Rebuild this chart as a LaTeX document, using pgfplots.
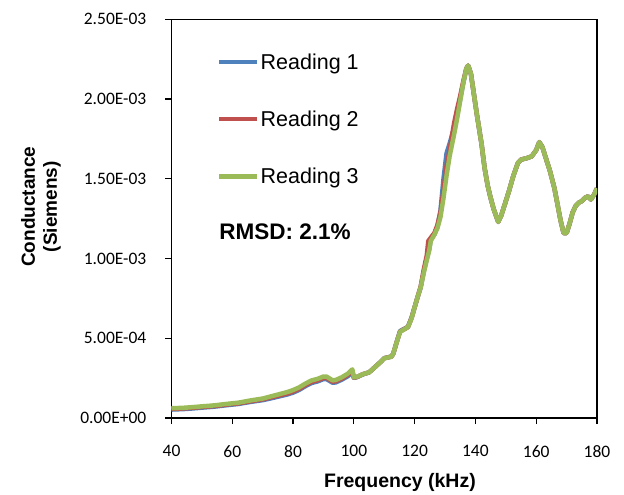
\documentclass[border=0pt]{standalone}
\usepackage{fontspec}
\setmainfont{Liberation Sans}
\newfontfamily\calibri{Carlito}
\usepackage{pgfplots}
\pgfplotsset{compat=1.18}
\usetikzlibrary{calc}
\definecolor{rblue}{HTML}{4F81BD}
\definecolor{rred}{HTML}{C0504D}
\definecolor{rgreen}{HTML}{9BBB59}

% conductance readings (S) vs frequency (kHz)
\pgfplotstableread{
x y
40 5.3e-5
44 5.6e-5
47 6.0e-5
50 6.5e-5
54 7.1e-5
58 8.0e-5
62 8.8e-5
66 1.01e-4
70 1.12e-4
72 1.20e-4
74 1.29e-4
76 1.38e-4
78 1.47e-4
80 1.59e-4
82 1.76e-4
84 1.99e-4
86 2.19e-4
88 2.29e-4
90 2.44e-4
91 2.44e-4
92 2.33e-4
93 2.21e-4
94 2.23e-4
96 2.40e-4
98 2.62e-4
99.5 2.85e-4
100 2.52e-4
101 2.56e-4
103 2.74e-4
105 2.86e-4
107 3.20e-4
109 3.55e-4
110 3.75e-4
112.4 3.86e-4
113 4.05e-4
114 4.70e-4
115.2 5.45e-4
117.8 5.72e-4
119 6.30e-4
120 6.95e-4
121 7.60e-4
122 8.20e-4
123 9.20e-4
124 1.00e-3
124.8 1.06e-3
125.3 1.12e-3
126.5 1.15e-3
127.5 1.20e-3
128.5 1.30e-3
129.5 1.50e-3
130.5 1.66e-3
131.5 1.72e-3
133 1.82e-3
134 1.90e-3
135 2.00e-3
136 2.10e-3
137 2.19e-3
137.6 2.21e-3
138.5 2.16e-3
139.5 2.03e-3
140.5 1.90e-3
142 1.72e-3
143 1.57e-3
144 1.46e-3
145 1.38e-3
146 1.31e-3
147.5 1.23e-3
148.5 1.27e-3
150 1.36e-3
151 1.42e-3
152.5 1.52e-3
154 1.60e-3
155 1.62e-3
157 1.63e-3
158.5 1.64e-3
160 1.68e-3
161 1.73e-3
162 1.70e-3
163 1.64e-3
164.5 1.55e-3
166 1.44e-3
167 1.34e-3
168 1.24e-3
169 1.16e-3
170 1.16e-3
171 1.22e-3
172 1.29e-3
173 1.33e-3
174 1.35e-3
175 1.36e-3
176 1.38e-3
177 1.39e-3
178 1.37e-3
179 1.40e-3
180 1.44e-3
}\readone

\pgfplotstableread{
x y
40 5.7e-5
44 6.0e-5
47 6.4e-5
50 6.9e-5
54 7.5e-5
58 8.4e-5
62 9.2e-5
66 1.05e-4
70 1.17e-4
72 1.26e-4
74 1.35e-4
76 1.44e-4
78 1.53e-4
80 1.66e-4
82 1.83e-4
84 2.06e-4
86 2.26e-4
88 2.36e-4
90 2.51e-4
91 2.51e-4
92 2.40e-4
93 2.28e-4
94 2.30e-4
96 2.47e-4
98 2.70e-4
99.5 2.95e-4
100 2.53e-4
101 2.57e-4
103 2.75e-4
105 2.86e-4
107 3.20e-4
109 3.55e-4
110 3.75e-4
112.4 3.85e-4
113 4.05e-4
114 4.70e-4
115.2 5.42e-4
117.8 5.70e-4
119 6.28e-4
120 6.95e-4
121 7.60e-4
122 8.25e-4
123 9.30e-4
124 1.02e-3
124.5 1.11e-3
125.3 1.13e-3
126.5 1.16e-3
127.5 1.21e-3
128.5 1.29e-3
129.5 1.43e-3
130.5 1.58e-3
131.5 1.68e-3
133 1.85e-3
134 1.94e-3
135 2.02e-3
136 2.11e-3
137 2.19e-3
137.6 2.21e-3
138.5 2.16e-3
139.5 2.03e-3
140.5 1.90e-3
142 1.72e-3
143 1.57e-3
144 1.46e-3
145 1.38e-3
146 1.31e-3
147.5 1.23e-3
148.5 1.27e-3
150 1.36e-3
151 1.42e-3
152.5 1.52e-3
154 1.60e-3
155 1.62e-3
157 1.63e-3
158.5 1.64e-3
160 1.68e-3
161 1.73e-3
162 1.70e-3
163 1.64e-3
164.5 1.55e-3
166 1.44e-3
167 1.34e-3
168 1.24e-3
169 1.16e-3
170 1.16e-3
171 1.22e-3
172 1.29e-3
173 1.33e-3
174 1.35e-3
175 1.36e-3
176 1.38e-3
177 1.39e-3
178 1.37e-3
179 1.40e-3
180 1.44e-3
}\readtwo

\pgfplotstableread{
x y
40 6.1e-5
44 6.4e-5
47 6.8e-5
50 7.3e-5
54 7.9e-5
58 8.8e-5
62 9.6e-5
66 1.10e-4
70 1.22e-4
72 1.32e-4
74 1.42e-4
76 1.52e-4
78 1.62e-4
80 1.75e-4
82 1.92e-4
84 2.15e-4
86 2.35e-4
88 2.45e-4
90 2.60e-4
91 2.60e-4
92 2.48e-4
93 2.36e-4
94 2.38e-4
96 2.55e-4
98 2.78e-4
99.5 3.05e-4
100 2.55e-4
101 2.58e-4
103 2.75e-4
105 2.86e-4
107 3.20e-4
109 3.55e-4
110 3.75e-4
112.4 3.84e-4
113 4.05e-4
114 4.70e-4
115.2 5.40e-4
117.8 5.70e-4
119 6.25e-4
120 6.95e-4
121 7.60e-4
122 8.20e-4
123 9.10e-4
124 9.90e-4
124.8 1.05e-3
125.3 1.11e-3
126.5 1.15e-3
127.5 1.19e-3
128.5 1.26e-3
129.5 1.38e-3
130.5 1.52e-3
131.5 1.64e-3
133 1.78e-3
134 1.88e-3
135 1.99e-3
136 2.10e-3
137 2.19e-3
137.6 2.21e-3
138.5 2.16e-3
139.5 2.03e-3
140.5 1.90e-3
142 1.72e-3
143 1.57e-3
144 1.46e-3
145 1.38e-3
146 1.31e-3
147.5 1.23e-3
148.5 1.27e-3
150 1.36e-3
151 1.42e-3
152.5 1.52e-3
154 1.60e-3
155 1.62e-3
157 1.63e-3
158.5 1.64e-3
160 1.68e-3
161 1.73e-3
162 1.70e-3
163 1.64e-3
164.5 1.55e-3
166 1.44e-3
167 1.34e-3
168 1.24e-3
169 1.16e-3
170 1.16e-3
171 1.22e-3
172 1.29e-3
173 1.33e-3
174 1.35e-3
175 1.36e-3
176 1.38e-3
177 1.39e-3
178 1.37e-3
179 1.40e-3
180 1.44e-3
}\readthree

\begin{document}
\begin{tikzpicture}
\begin{axis}[
  scale only axis,
  width=425.5pt, height=398.7pt,
  xmin=40, xmax=180, ymin=0, ymax=2.5e-3,
  xtick={40,60,...,180},
  xticklabels={40,60,80,100,120,140,160,180},
  ytick={0,5e-4,1e-3,1.5e-3,2e-3,2.5e-3},
  yticklabels={0.00E+00,5.00E-04,1.00E-03,1.50E-03,2.00E-03,2.50E-03},
  scaled y ticks=false,
  xtick pos=bottom, ytick pos=left,
  tick align=outside,
  major tick length=6pt,
  tick label style={font=\calibri\fontsize{17.5}{20}\selectfont},
  tick style={black, line width=1.2pt},
  axis line style={black, line width=1.5pt},
  xticklabel style={inner sep=0pt, anchor=north, yshift=-21pt},
  yticklabel style={inner sep=0pt, anchor=east, xshift=-19pt},
  xlabel={Frequency (kHz)},
  xlabel style={font=\bfseries\fontsize{19.5}{19.5}\selectfont, at={(axis description cs:0.537,0)}, anchor=center, yshift=-64pt},
  ylabel={Conductance\\(Siemens)},
  ylabel style={font=\bfseries\fontsize{19}{22}\selectfont, align=center, at={(axis description cs:-0.307,0.53)}, anchor=center, rotate=0},
  legend style={at={(rel axis cs:0.107,0.917)}, anchor=north west, draw=none, fill=none,
    font=\fontsize{21.5}{24}\selectfont, row sep=38pt, inner sep=0pt,
    nodes={inner sep=1pt}},
  legend cell align=left,
  legend image code/.code={\draw[#1, line width=4.5pt] (0pt,0pt) -- (38pt,0pt);},
]
\addplot[rblue, line width=4.5pt, line join=round] table {\readone};
\addlegendentry{Reading 1}
\addplot[rred, line width=4.5pt, line join=round] table {\readtwo};
\addlegendentry{Reading 2}
\addplot[rgreen, line width=4.5pt, line join=round] table {\readthree};
\addlegendentry{Reading 3}
\node[anchor=west, font=\bfseries\fontsize{22.5}{23}\selectfont] at (rel axis cs:0.104,0.4665) {RMSD: 2.1\%};
\coordinate (sw) at (rel axis cs:0,0);
\coordinate (ne) at (rel axis cs:1,1);
\end{axis}
\pgfresetboundingbox
\path[use as bounding box] ($(sw)+(-171.5pt,-77pt)$) rectangle ($(ne)+(27pt,19.3pt)$);
\end{tikzpicture}
\end{document}
